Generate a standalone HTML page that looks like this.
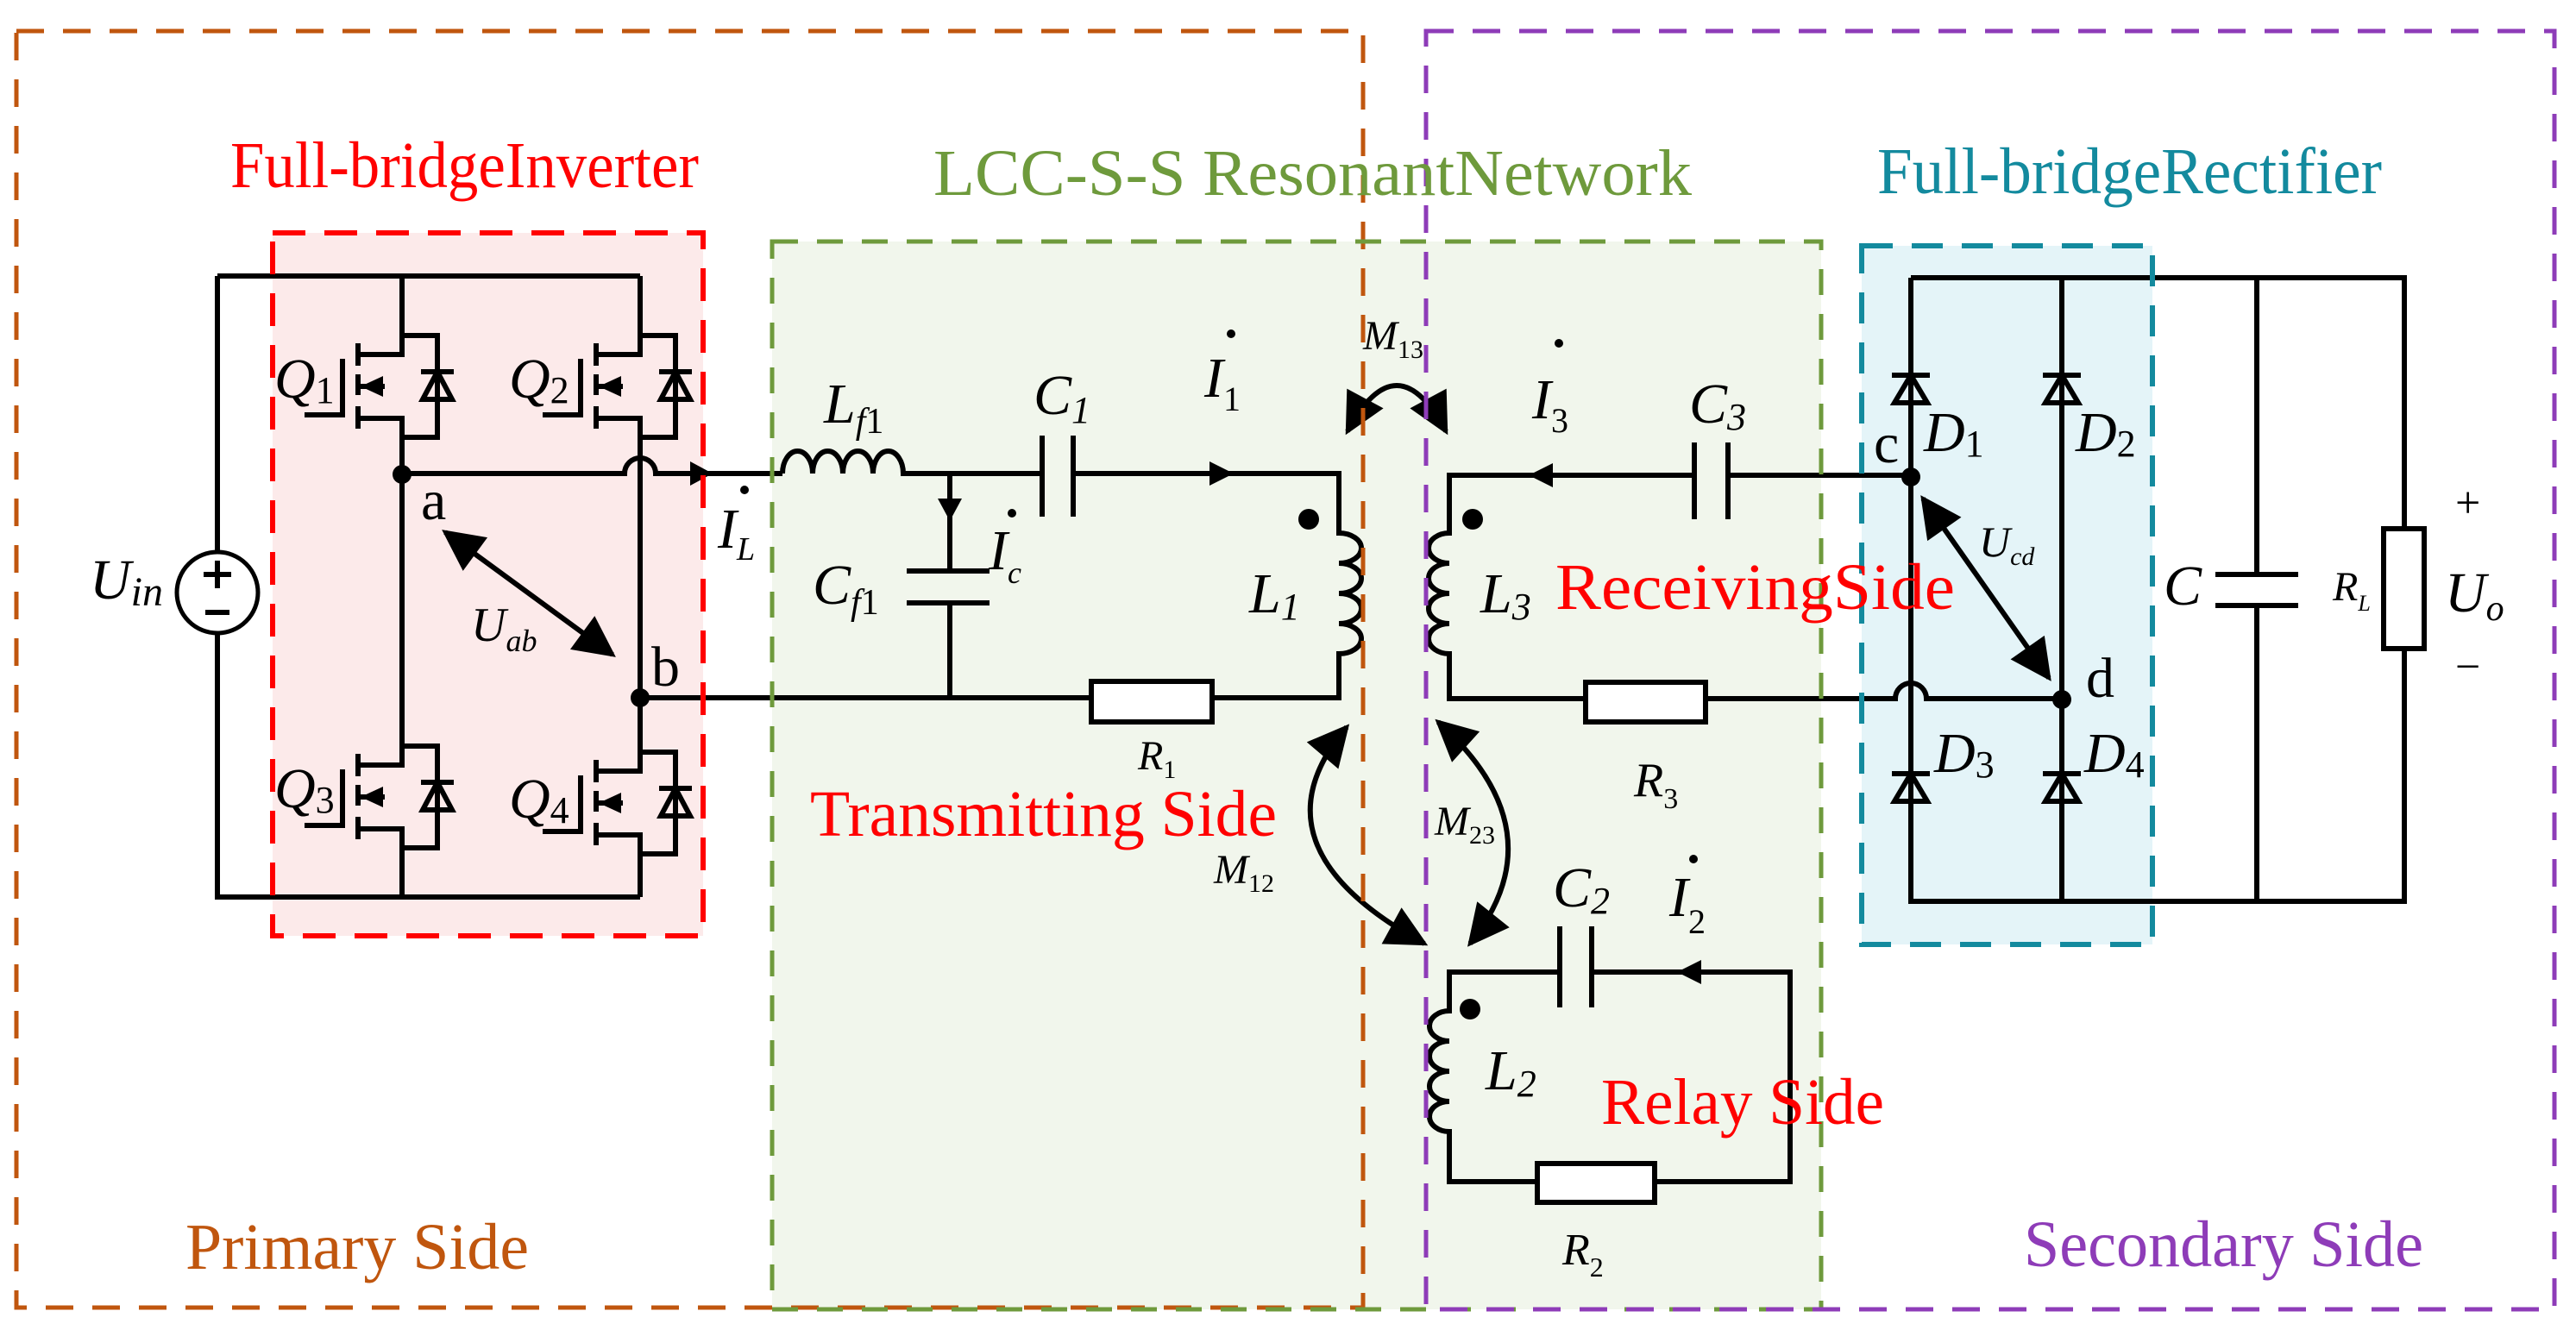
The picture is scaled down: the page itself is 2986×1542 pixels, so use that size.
<!DOCTYPE html>
<html><head><meta charset="utf-8"><style>
html,body{margin:0;padding:0;background:#fff;}
svg{display:block;}
svg text{font-family:"Liberation Serif","Times New Roman","DejaVu Serif",serif;}
.w{fill:none;stroke:#000;stroke-width:6;stroke-linejoin:miter;}
.i{font-style:italic;}
</style></head><body>
<svg width="2986" height="1542" viewBox="0 0 2986 1542" xmlns="http://www.w3.org/2000/svg" font-family="Liberation Serif, Times New Roman, DejaVu Serif, serif">
<defs>
<marker id="ah" viewBox="0 0 10 10" refX="9" refY="5" markerWidth="9" markerHeight="8" markerUnits="strokeWidth" orient="auto-start-reverse"><path d="M0 0 L10 5 L0 10 Z" fill="#000"/></marker>
<g id="mos">
 <path class="w" d="M0 0 V22 H-51 M0 0 H41 V118 H0 M-51 96 H0 V118 M-51 59 H-20"/>
 <path class="w" d="M-51 9 V35 M-51 45 V69 M-51 82 V108 M-69 27 V92 H-113"/>
 <path d="M-48 59 L-22 47 L-22 71 Z" fill="#000"/>
 <path class="w" d="M22 42 H60 M41 42 L24 74 H58 Z"/>
</g>
<g id="dio">
 <path class="w" d="M-22 0 H22 M0 0 L-19 32 H19 Z"/>
</g>
</defs>

<rect x="316" y="270" width="499" height="815" fill="#FCEAEA"/>
<rect x="895" y="280" width="1216" height="1238" fill="#F1F6EC"/>
<rect x="2158" y="285" width="337" height="810" fill="#E4F4F8"/>

<path class="w" d="M252 320 H742 M466 320 V389 M742 320 V389 M252 320 V640 M252 734 V1040 H742 M466 507 V865 M466 983 V1040 M742 507 V872 M742 990 V1040"/>
<use href="#mos" x="466" y="389"/>
<use href="#mos" x="742" y="389"/>
<use href="#mos" x="466" y="865"/>
<use href="#mos" x="742" y="872"/>
<circle cx="252" cy="687" r="47" fill="#fff" stroke="#000" stroke-width="5"/>
<path class="w" d="M252 650 V682 M236 666 H268 M238 710 H266" stroke-width="4"/>
<circle cx="466" cy="550" r="11"/>
<circle cx="742" cy="809" r="11"/>
<path class="w" d="M466 549 H724 A18 18 0 0 1 760 549 H907"/>
<path d="M826 549 L800 535 V563 Z" fill="#000"/>
<path class="w" d="M907 549 a17.5 26 0 0 1 35 0 a17.5 26 0 0 1 35 0 a17.5 26 0 0 1 35 0 a17.5 26 0 0 1 35 0 H1208 M1244 549 H1552 V618 a26 17.5 0 0 1 0 35 a26 17.5 0 0 1 0 35 a26 17.5 0 0 1 0 35 a26 17.5 0 0 1 0 35 V809 H1405"/>
<path class="w" d="M1208 505 V599 M1244 505 V599"/>
<path d="M1430 549 L1402 535 V563 Z" fill="#000"/>
<path class="w" d="M1101 549 V662 M1051 662 H1147 M1051 699 H1147 M1101 699 V809 M742 809 H1265"/>
<path d="M1101 604 L1087 578 H1115 Z" fill="#000"/>
<rect x="1265" y="790" width="140" height="47" fill="#fff" stroke="#000" stroke-width="6"/>
<circle cx="1517" cy="602" r="12"/>

<path class="w" d="M2215 551 H2003 M1964 551 H1680 V618 a24 17.5 0 0 0 0 35 a24 17.5 0 0 0 0 35 a24 17.5 0 0 0 0 35 a24 17.5 0 0 0 0 35 V810 H1838 M1977 810 H2197 A18 18 0 0 1 2233 810 H2390"/>
<path class="w" d="M1964 513 V602 M2003 513 V602"/>
<path d="M1772 551 L1800 537 V565 Z" fill="#000"/>
<rect x="1838" y="791" width="139" height="46" fill="#fff" stroke="#000" stroke-width="6"/>
<circle cx="1707" cy="602" r="12"/>

<path class="w" d="M1808 1127 H1680 V1172 a23 17.5 0 0 0 0 35 a23 17.5 0 0 0 0 35 a23 17.5 0 0 0 0 35 a23 17.5 0 0 0 0 35 V1370 H1782 M1918 1370 H2075 V1127 H1845"/>
<path class="w" d="M1808 1074 V1168 M1845 1074 V1168"/>
<path d="M1944 1127 L1972 1113 V1141 Z" fill="#000"/>
<rect x="1782" y="1349" width="136" height="45" fill="#fff" stroke="#000" stroke-width="6"/>
<circle cx="1704" cy="1170" r="12"/>

<path class="w" stroke-width="5" d="M1562 500 Q1619 394 1676 500" marker-start="url(#ah)" marker-end="url(#ah)"/>
<path class="w" stroke-width="5" d="M1561 843 Q1444 981 1651 1094" marker-start="url(#ah)" marker-end="url(#ah)"/>
<path class="w" stroke-width="5" d="M1667 837 Q1808 964 1704 1094" marker-start="url(#ah)" marker-end="url(#ah)"/>
<path class="w" stroke-width="5" d="M516 617 L710 759" marker-start="url(#ah)" marker-end="url(#ah)"/>
<path class="w" stroke-width="5" d="M2229 578 L2375 786" marker-start="url(#ah)" marker-end="url(#ah)"/>

<path class="w" d="M2215 322 V1045 H2787 V752 M2787 613 V322 H2215 M2390 322 V1045 M2616 322 V666 M2616 702 V1045 M2568 666 H2664 M2568 702 H2664"/>
<use href="#dio" x="2215" y="435"/>
<use href="#dio" x="2390" y="435"/>
<use href="#dio" x="2215" y="897"/>
<use href="#dio" x="2390" y="897"/>
<rect x="2763" y="613" width="47" height="139" fill="#fff" stroke="#000" stroke-width="6"/>
<circle cx="2215" cy="553" r="11"/>
<circle cx="2390" cy="811" r="11"/>

<rect x="19" y="36" width="1561" height="1480" fill="none" stroke="#C0560E" stroke-width="5" stroke-dasharray="32 22"/>
<rect x="316" y="270" width="499" height="815" fill="none" stroke="#FF0000" stroke-width="6" stroke-dasharray="38 22"/>
<rect x="895" y="280" width="1216" height="1238" fill="none" stroke="#6E9A3C" stroke-width="5" stroke-dasharray="30 22"/>
<rect x="2158" y="285" width="337" height="810" fill="none" stroke="#138A9E" stroke-width="6" stroke-dasharray="36 22"/>
<rect x="1653" y="36" width="1308" height="1482" fill="none" stroke="#8E3CB8" stroke-width="5" stroke-dasharray="32 22"/>

<g font-size="76">
<text x="267" y="217" fill="#FF0000" textLength="543" lengthAdjust="spacingAndGlyphs">Full-bridgeInverter</text>
<text x="1082" y="226" fill="#6E9A3C" textLength="879" lengthAdjust="spacingAndGlyphs">LCC-S-S ResonantNetwork</text>
<text x="2176" y="224" fill="#138A9E" textLength="585" lengthAdjust="spacingAndGlyphs">Full-bridgeRectifier</text>
<text x="215" y="1471" fill="#C0560E" textLength="398" lengthAdjust="spacingAndGlyphs">Primary Side</text>
<text x="2346" y="1468" fill="#8E3CB8" textLength="463" lengthAdjust="spacingAndGlyphs">Secondary Side</text>
<text x="939" y="969" fill="#FF0000" textLength="541" lengthAdjust="spacingAndGlyphs">Transmitting Side</text>
<text x="1803" y="706" fill="#FF0000" textLength="463" lengthAdjust="spacingAndGlyphs">ReceivingSide</text>
<text x="1856" y="1303" fill="#FF0000" textLength="328" lengthAdjust="spacingAndGlyphs">Relay Side</text>
</g>

<g font-size="66" fill="#000">
<text x="318" y="461" class="i">Q<tspan font-style="normal" font-size="44" dy="6">1</tspan></text>
<text x="590" y="461" class="i">Q<tspan font-style="normal" font-size="44" dy="6">2</tspan></text>
<text x="318" y="936" class="i">Q<tspan font-style="normal" font-size="44" dy="6">3</tspan></text>
<text x="590" y="948" class="i">Q<tspan font-style="normal" font-size="44" dy="6">4</tspan></text>
<text x="104" y="694" class="i">U<tspan font-size="48" dy="8">in</tspan></text>
<text x="488" y="602">a</text>
<text x="755" y="795">b</text>
<text x="546" y="743" class="i" font-size="56">U<tspan font-size="36" dy="12">ab</tspan></text>
<text x="955" y="490" class="i">L<tspan font-size="42" dy="12">f</tspan><tspan font-style="normal" font-size="42">1</tspan></text>
<text x="1198" y="480" class="i">C<tspan font-size="44" dy="10">1</tspan></text>
<text x="942" y="700" class="i">C<tspan font-size="42" dy="12">f</tspan><tspan font-style="normal" font-size="42">1</tspan></text>
<text x="832" y="635" class="i">I<tspan font-size="38" dy="14">L</tspan></text>
<text x="1146" y="660" class="i">I<tspan font-size="36" dy="16">c</tspan></text>
<text x="1396" y="460" class="i">I<tspan font-style="normal" font-size="40" dy="16">1</tspan></text>
<text x="1776" y="485" class="i">I<tspan font-style="normal" font-size="40" dy="16">3</tspan></text>
<text x="1935" y="1062" class="i">I<tspan font-style="normal" font-size="40" dy="20">2</tspan></text>
<text x="1448" y="710" class="i">L<tspan font-size="44" dy="8">1</tspan></text>
<text x="1716" y="710" class="i">L<tspan font-size="44" dy="8">3</tspan></text>
<text x="1722" y="1263" class="i">L<tspan font-size="44" dy="8">2</tspan></text>
<text x="1800" y="1051" class="i">C<tspan font-size="44" dy="8">2</tspan></text>
<text x="1958" y="490" class="i">C<tspan font-size="44" dy="8">3</tspan></text>
<text x="1580" y="405" class="i" font-size="48">M<tspan font-style="normal" font-size="30" dy="10">13</tspan></text>
<text x="1407" y="1024" class="i" font-size="48">M<tspan font-style="normal" font-size="30" dy="10">12</tspan></text>
<text x="1663" y="968" class="i" font-size="48">M<tspan font-style="normal" font-size="30" dy="10">23</tspan></text>
<text x="1319" y="892" class="i" font-size="48">R<tspan font-style="normal" font-size="30" dy="10">1</tspan></text>
<text x="1894" y="923" class="i" font-size="56">R<tspan font-style="normal" font-size="34" dy="14">3</tspan></text>
<text x="1811" y="1466" class="i" font-size="52">R<tspan font-style="normal" font-size="32" dy="14">2</tspan></text>
<text x="2230" y="523" class="i">D<tspan font-style="normal" font-size="44" dy="6">1</tspan></text>
<text x="2406" y="523" class="i">D<tspan font-style="normal" font-size="44" dy="6">2</tspan></text>
<text x="2242" y="895" class="i">D<tspan font-style="normal" font-size="44" dy="6">3</tspan></text>
<text x="2416" y="895" class="i">D<tspan font-style="normal" font-size="44" dy="6">4</tspan></text>
<text x="2172" y="536">c</text>
<text x="2418" y="808">d</text>
<text x="2294" y="645" class="i" font-size="50">U<tspan font-size="30" dy="10">cd</tspan></text>
<text x="2508" y="701" class="i">C</text>
<text x="2704" y="696" class="i" font-size="48">R<tspan font-size="26" dy="12">L</tspan></text>
<text x="2834" y="709" class="i">U<tspan font-size="42" dy="10">o</tspan></text>
<text x="2846" y="600" font-size="52">+</text>
<text x="2846" y="790" font-size="52">−</text>
</g>
<g fill="#000">
<circle cx="863" cy="568" r="5"/>
<circle cx="1173" cy="595" r="5"/>
<circle cx="1427" cy="387" r="5"/>
<circle cx="1807" cy="398" r="5"/>
<circle cx="1963" cy="996" r="5"/>
</g>
</svg>
</body></html>
